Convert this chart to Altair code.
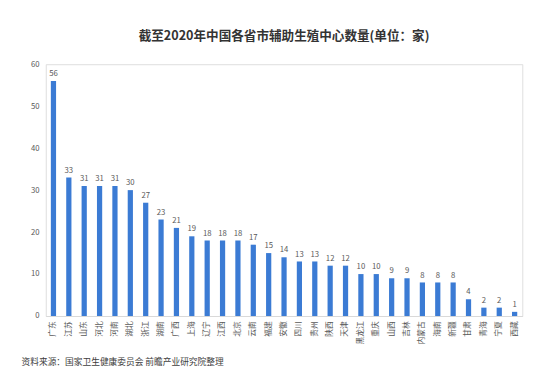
import altair as alt
import pandas as pd

provinces = ["广东", "江苏", "山东", "河北", "河南", "湖北", "浙江", "湖南", "广西", "上海",
             "辽宁", "江西", "北京", "云南", "福建", "安徽", "四川", "贵州", "陕西", "天津",
             "黑龙江", "重庆", "山西", "吉林", "内蒙古", "海南", "新疆", "甘肃", "青海", "宁夏", "西藏"]
counts = [56, 33, 31, 31, 31, 30, 27, 23, 21, 19,
          18, 18, 18, 17, 15, 14, 13, 13, 12, 12,
          10, 10, 9, 9, 8, 8, 8, 4, 2, 2, 1]
y_ticks = [0, 10, 20, 30, 40, 50, 60]

title_text = "截至2020年中国各省市辅助生殖中心数量(单位：家)"
source_text = "资料来源：国家卫生健康委员会 前瞻产业研究院整理"

df = pd.DataFrame({"province": provinces, "count": counts})
FONT = "Noto Sans CJK SC"

base = alt.Chart(df).encode(
    x=alt.X("province:N", sort=provinces, title=None,
            scale=alt.Scale(paddingInner=0.66, paddingOuter=0.33),
            axis=alt.Axis(labelAngle=-90, labelFontSize=8, labelColor="#595959",
                          labelFont=FONT, domainColor="#d9d9d9", ticks=False,
                          labelPadding=5)),
    y=alt.Y("count:Q", title=None,
            scale=alt.Scale(domain=[0, 60]),
            axis=alt.Axis(values=y_ticks, grid=False, domain=False, ticks=False,
                          labelFontSize=8, labelColor="#595959", labelFont=FONT,
                          labelPadding=7)),
)

bars = base.mark_bar(color="#3b7bd4")
labels = base.mark_text(dy=-7, fontSize=8, color="#595959", font=FONT).encode(text="count:Q")

source = alt.Chart(pd.DataFrame({"t": [source_text]})).mark_text(
    align="left", baseline="middle", fontSize=9, color="#404040", font=FONT
).encode(x=alt.value(-25), y=alt.value(308), text="t:N")

chart = alt.layer(bars, labels, source).properties(
    width=492, height=260,
    title=alt.Title(title_text, fontSize=13, fontWeight="bold", color="#333333",
                    font=FONT, anchor="middle", offset=18),
    autosize=alt.AutoSizeParams(type="none"),
    padding={"left": 39, "top": 52, "right": 10, "bottom": 60},
).configure_view(stroke=None).configure(background="white")

chart.save("out.html", embed_options={"renderer": "svg", "actions": False})
